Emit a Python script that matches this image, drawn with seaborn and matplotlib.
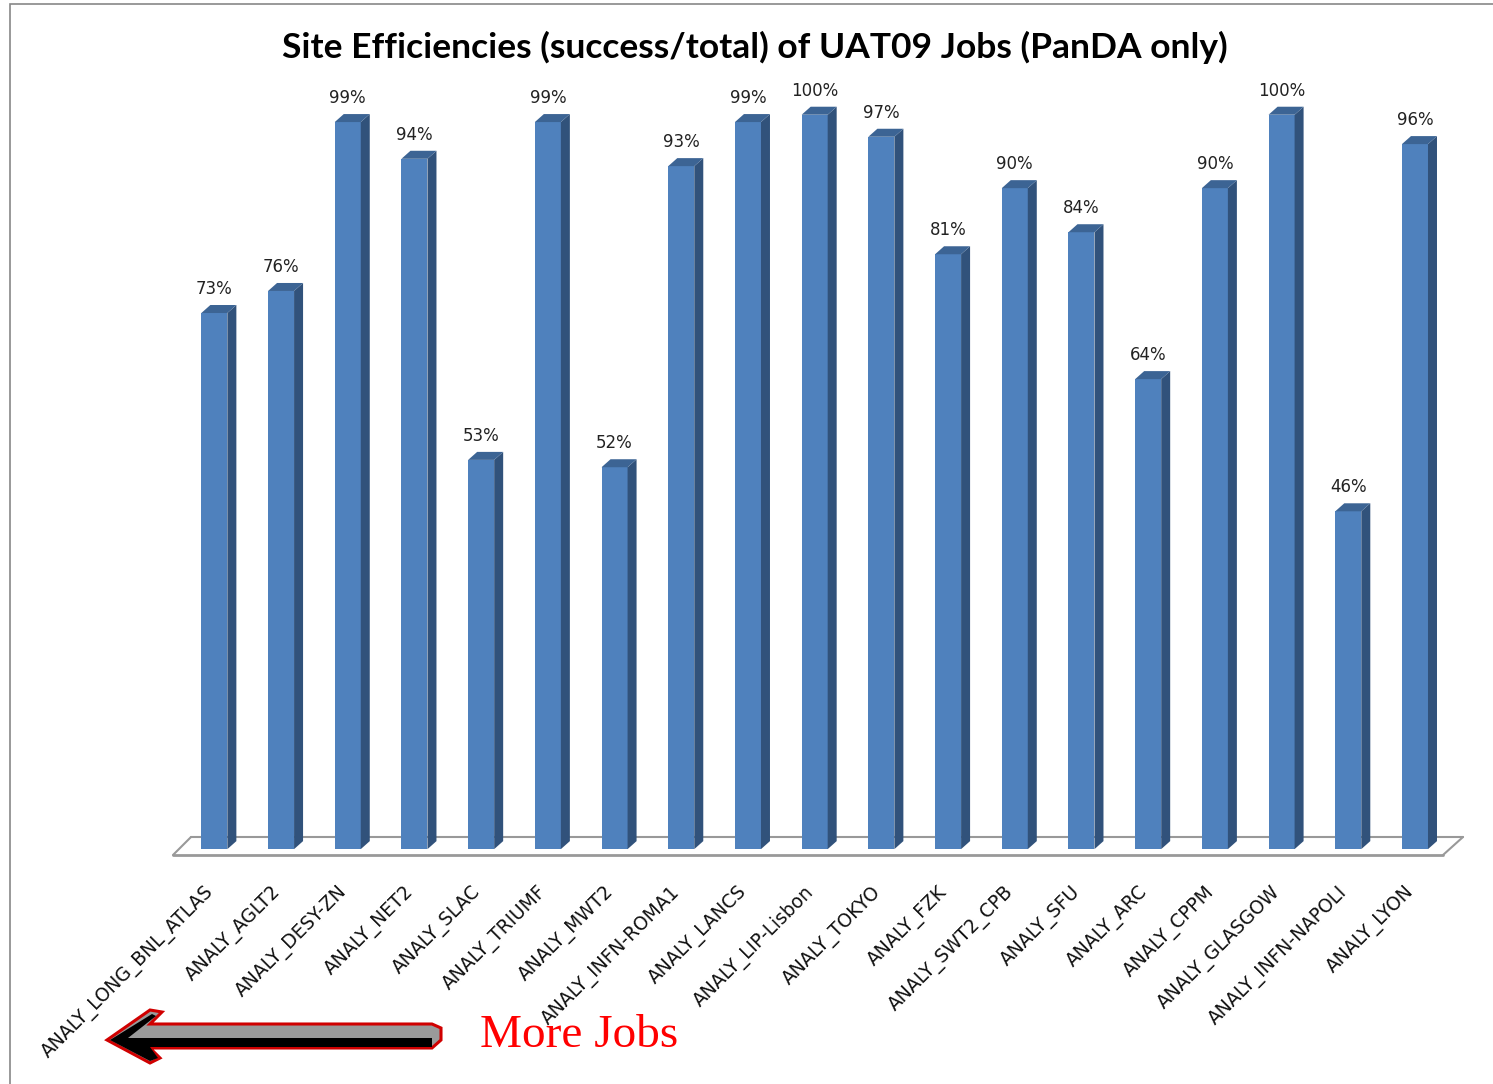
import matplotlib
matplotlib.use("Agg")
import matplotlib.pyplot as plt
import matplotlib.transforms as mtransforms
import seaborn as sns
from matplotlib.patches import Polygon, Rectangle

# site efficiencies (success/total)
sites = ["ANALY_LONG_BNL_ATLAS", "ANALY_AGLT2", "ANALY_DESY-ZN", "ANALY_NET2",
         "ANALY_SLAC", "ANALY_TRIUMF", "ANALY_MWT2", "ANALY_INFN-ROMA1",
         "ANALY_LANCS", "ANALY_LIP-Lisbon", "ANALY_TOKYO", "ANALY_FZK",
         "ANALY_SWT2_CPB", "ANALY_SFU", "ANALY_ARC", "ANALY_CPPM",
         "ANALY_GLASGOW", "ANALY_INFN-NAPOLI", "ANALY_LYON"]
efficiency = [73, 76, 99, 94, 53, 99, 52, 93, 99, 100, 97, 81, 90, 84, 64, 90, 100, 46, 96]

front = "#4F81BD"
side = "#31527B"
top = "#3C6494"

W, H = 1493, 1084
sns.set_style("white")
fig = plt.figure(figsize=(W / 100, H / 100), dpi=100)

# axes placed so the floor sits where the reference has it
ax_left, ax_right, ax_bottom, ax_top = 173, 1443, 855, 78
ax = fig.add_axes([ax_left / W, 1 - ax_bottom / H, (ax_right - ax_left) / W, (ax_bottom - ax_top) / H])

vals = [v / 100 for v in efficiency]
sns.barplot(x=sites, y=vals, color=front, saturation=1, width=0.39, ax=ax, zorder=3,
            edgecolor="none", linewidth=0)

xlo, xhi = -0.62, 18.42
ylo, yhi = -0.008, 1.05
ax.set_xlim(xlo, xhi)
ax.set_ylim(ylo, yhi)

# pixel -> data conversion for the pseudo-3D depth
px_x = (xhi - xlo) / (ax_right - ax_left)
px_y = (yhi - ylo) / (ax_bottom - ax_top)
dx, dy = 9 * px_x, 8 * px_y

for p, v in zip(ax.patches, vals):
    x0 = p.get_x()
    x1 = x0 + p.get_width()
    ax.add_patch(Polygon([(x1, 0), (x1 + dx, dy), (x1 + dx, v + dy), (x1, v)],
                         closed=True, facecolor=side, edgecolor="none", zorder=3))
    ax.add_patch(Polygon([(x0, v), (x1, v), (x1 + dx, v + dy), (x0 + dx, v + dy)],
                         closed=True, facecolor=top, edgecolor="none", zorder=3))
    ax.annotate(f"{round(v * 100)}%", (x0 + p.get_width() / 2, v + dy),
                xytext=(0, 5), textcoords="offset points", ha="center", va="bottom",
                fontsize=12, color="#222222")

# floor parallelogram
fx = 20 * px_x
fy = 18 * px_y
ax.plot([xlo, xhi], [ylo, ylo], color="#999999", lw=2, zorder=1, clip_on=False)
ax.plot([xlo + fx * 0.9, xhi + fx], [ylo + fy, ylo + fy], color="#999999", lw=1.5, zorder=1, clip_on=False)
ax.plot([xlo, xlo + fx * 0.9], [ylo, ylo + fy], color="#999999", lw=1.5, zorder=1, clip_on=False)
ax.plot([xhi, xhi + fx], [ylo, ylo + fy], color="#999999", lw=1.5, zorder=1, clip_on=False)

for s in ax.spines.values():
    s.set_visible(False)
ax.set_yticks([])
ax.tick_params(axis="x", length=0, pad=20)
ax.set_xticks(range(len(sites)))
ax.set_xticklabels(sites, rotation=45, ha="right", va="top", rotation_mode="anchor",
                   fontsize=13.4, color="#111111")
shift = mtransforms.ScaledTranslation(-10 / 100, 0, fig.dpi_scale_trans)
for lbl in ax.get_xticklabels():
    lbl.set_transform(lbl.get_transform() + shift)
ax.set_xlabel("")
ax.set_ylabel("")

fig.text(755 / W, 1 - 47 / H, "Site Efficiencies (success/total) of UAT09 Jobs (PanDA only)",
         ha="center", va="center", fontsize=25.5, fontweight="bold", family="Lato", color="black")

# outer frame
fig.add_artist(Rectangle((10 / W, -0.01), 1.0, 1 - 4 / H + 0.01, transform=fig.transFigure,
                         fill=False, edgecolor="#888888", lw=1.2))


def fpt(x, y):
    return (x / W, 1 - y / H)


# "More Jobs" arrow
arrow = [fpt(107, 1040), fpt(150, 1010), fpt(162, 1012), fpt(150, 1024), fpt(432, 1024),
         fpt(441, 1028), fpt(441, 1040), fpt(432, 1048), fpt(150, 1048),
         fpt(160, 1058), fpt(150, 1063)]
fig.add_artist(Polygon(arrow, closed=True, transform=fig.transFigure,
                       facecolor="#9A9A9A", edgecolor="#D00000", lw=2.2))
band = [fpt(110, 1040), fpt(152, 1014), fpt(156, 1016), fpt(128, 1038), fpt(432, 1038),
        fpt(432, 1047), fpt(150, 1047), fpt(158, 1058), fpt(150, 1061)]
fig.add_artist(Polygon(band, closed=True, transform=fig.transFigure,
                       facecolor="black", edgecolor="none"))
fig.text(480 / W, 1 - 1036 / H, "More Jobs", ha="left", va="center", fontsize=34,
         color="#FF0000", family="Liberation Serif")

fig.savefig("out.png", dpi=100)
